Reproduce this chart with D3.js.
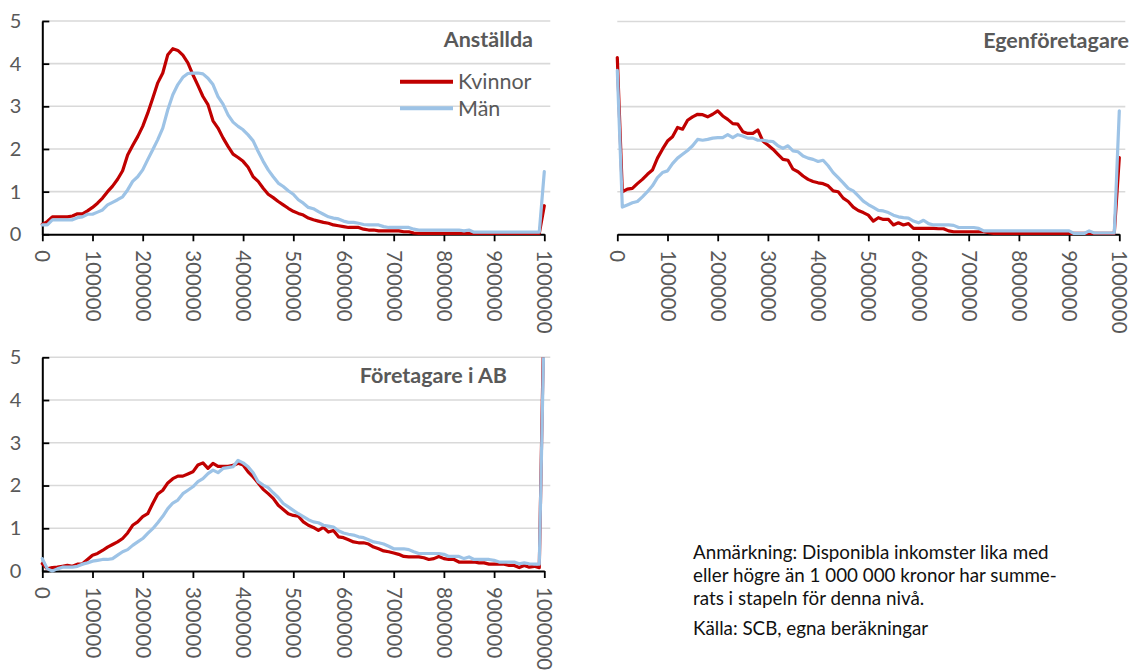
<!DOCTYPE html>
<html>
<head>
<meta charset="utf-8">
<script src="https://cdn.jsdelivr.net/npm/d3@7"></script>
<style>
  html, body { margin: 0; padding: 0; background: #ffffff; }
  svg { display: block; font-family: Lato, "Open Sans", sans-serif; }
</style>
</head>
<body>
<svg id="chart" width="1133" height="670"></svg>
<script>
// ---------- DATA ----------
// Disposable income categories (SEK), steps of 10 000
const incomes = d3.range(0, 1000001, 10000);
const xTickValues = [0, 100000, 200000, 300000, 400000, 500000, 600000, 700000, 800000, 900000, 1000000];
const xTickLabels = ["0", "100000", "200000", "300000", "400000", "500000", "600000", "700000", "800000", "900000", "1000000"];
const yTickValues = [0, 1, 2, 3, 4, 5];
const seriesNames = ["Kvinnor", "Män"];
const panelTitles = ["Anställda", "Egenföretagare", "Företagare i AB"];

// Anställda
const anstKvinnor = [0.23,0.30,0.41,0.41,0.41,0.41,0.43,0.48,0.48,0.55,0.63,0.73,0.85,1.00,1.13,1.29,1.49,1.86,2.08,2.29,
  2.53,2.84,3.19,3.55,3.78,4.21,4.35,4.31,4.20,4.02,3.74,3.49,3.23,3.04,2.66,2.49,2.26,2.06,1.88,1.80,
  1.71,1.57,1.35,1.24,1.08,0.94,0.86,0.77,0.69,0.61,0.54,
  0.49,0.45,0.38,0.34,0.31,0.28,0.26,0.22,0.20,0.18,0.16,0.16,0.16,0.12,0.10,0.10,0.08,0.08,0.08,0.08,
  0.08,0.06,0.06,0.03,0.02,0.02,0.02,0.02,0.02,0.02,0.02,0.02,0.02,0.02,0.02,0.02,0.02,0.02,0.02,0.02,
  0.02,0.02,0.02,0.02,0.02,0.02,0.02,0.02,0.02,0.67];
const anstMan = [0.22,0.22,0.34,0.34,0.34,0.34,0.34,0.39,0.41,0.47,0.47,0.52,0.57,0.69,0.75,0.81,0.88,1.04,1.24,1.35,
  1.51,1.75,1.98,2.22,2.49,2.92,3.27,3.51,3.68,3.77,3.78,3.78,3.76,3.66,3.51,3.23,3.05,2.80,2.63,2.53,
  2.45,2.33,2.19,1.94,1.71,1.51,1.35,1.20,1.12,1.02,0.94,
  0.81,0.73,0.63,0.60,0.53,0.47,0.41,0.38,0.36,0.31,0.28,0.28,0.26,0.23,0.22,0.22,0.22,0.18,0.16,0.16,
  0.16,0.16,0.16,0.12,0.10,0.10,0.10,0.10,0.10,0.10,0.10,0.10,0.10,0.08,0.10,0.05,0.05,0.05,0.05,0.05,
  0.05,0.05,0.05,0.05,0.05,0.05,0.05,0.05,0.05,1.47];

// Egenföretagare
const egenKvinnor = [4.15,1.00,1.06,1.08,1.19,1.29,1.41,1.51,1.79,2.00,2.19,2.29,2.51,2.47,2.68,2.76,2.82,2.81,2.76,2.82,
  2.90,2.78,2.70,2.60,2.59,2.41,2.37,2.37,2.45,2.19,2.10,2.00,1.88,1.76,1.74,1.53,1.47,1.37,1.29,1.24,
  1.21,1.19,1.14,1.02,1.00,0.85,0.77,0.64,0.56,0.51,0.45,
  0.31,0.39,0.35,0.35,0.22,0.27,0.22,0.25,0.14,0.14,0.14,0.14,0.14,0.13,0.13,0.08,0.06,0.06,0.06,0.06,
  0.06,0.06,0.06,0.04,0.02,0.02,0.02,0.02,0.02,0.02,0.02,0.02,0.02,0.02,0.02,0.02,0.02,0.02,0.02,0.02,
  0.02,0.02,0.02,0.02,0.02,0.02,0.02,0.02,0.02,1.80];
const egenMan = [3.85,0.64,0.69,0.74,0.77,0.88,1.00,1.14,1.33,1.45,1.49,1.66,1.79,1.88,1.97,2.08,2.23,2.21,2.23,2.26,
  2.27,2.27,2.34,2.27,2.34,2.31,2.26,2.26,2.21,2.21,2.19,2.18,2.08,2.02,2.08,1.96,1.94,1.84,1.79,1.76,
  1.71,1.74,1.61,1.45,1.33,1.21,1.08,1.02,0.90,0.78,0.70,
  0.63,0.56,0.55,0.51,0.45,0.41,0.39,0.38,0.31,0.27,0.33,0.25,0.22,0.22,0.22,0.22,0.21,0.16,0.16,0.16,
  0.16,0.14,0.08,0.08,0.08,0.08,0.08,0.08,0.08,0.08,0.08,0.08,0.08,0.08,0.08,0.08,0.08,0.08,0.08,0.08,
  0.02,0.02,0.02,0.08,0.03,0.03,0.03,0.03,0.03,2.90];

// Företagare i AB
const abKvinnor = [0.17,0.05,0.08,0.09,0.11,0.13,0.11,0.16,0.17,0.27,0.37,0.41,0.48,0.56,0.62,0.68,0.76,0.89,1.07,1.15,
  1.27,1.34,1.58,1.80,1.89,2.06,2.16,2.22,2.22,2.27,2.32,2.48,2.53,2.40,2.52,2.45,2.45,2.45,2.47,2.52,
  2.48,2.32,2.20,2.06,1.91,1.81,1.70,1.54,1.44,1.34,1.30,
  1.28,1.15,1.07,1.02,0.95,1.02,0.91,0.95,0.80,0.78,0.73,0.68,0.66,0.66,0.63,0.56,0.52,0.47,0.45,0.42,
  0.39,0.34,0.33,0.33,0.33,0.31,0.27,0.29,0.34,0.29,0.27,0.27,0.21,0.21,0.21,0.21,0.19,0.19,0.16,0.16,
  0.16,0.16,0.13,0.13,0.08,0.13,0.09,0.11,0.08,6.50];
const abMan = [0.29,0.05,0.00,0.05,0.09,0.09,0.09,0.11,0.16,0.19,0.23,0.25,0.27,0.27,0.29,0.37,0.45,0.50,0.60,0.68,
  0.76,0.88,0.99,1.13,1.28,1.46,1.59,1.66,1.81,1.89,1.97,2.09,2.16,2.28,2.36,2.30,2.40,2.42,2.44,2.59,
  2.53,2.44,2.30,2.09,2.01,1.95,1.83,1.72,1.58,1.50,1.42,
  1.34,1.27,1.20,1.15,1.13,1.07,1.05,1.03,0.94,0.89,0.86,0.84,0.80,0.78,0.73,0.68,0.66,0.63,0.58,0.52,
  0.52,0.52,0.50,0.45,0.41,0.41,0.41,0.41,0.41,0.39,0.34,0.34,0.34,0.29,0.33,0.27,0.27,0.27,0.27,0.25,
  0.21,0.21,0.21,0.21,0.17,0.19,0.17,0.16,0.16,6.00];

const noteLines = [
  "Anmärkning: Disponibla inkomster lika med",
  "eller högre än 1 000 000 kronor har summe-",
  "rats i stapeln för denna nivå."
];
const sourceLine = "Källa: SCB, egna beräkningar";

// ---------- STYLE / LAYOUT ----------
const colors = { "Kvinnor": "#c00000", "Män": "#9dc3e6" };
const textGray = "#595959";
const gridColor = "#d9d9d9";

const panels = [
  { title: panelTitles[0], series: [anstKvinnor, anstMan], x0: 42.3, x1: 544.3, y0: 234.3, y5: 21.0, yAxis: true,
    titleX: 533, titleY: 47, legend: true },
  { title: panelTitles[1], series: [egenKvinnor, egenMan], x0: 617.3, x1: 1119.3, y0: 234.3, y5: 21.5, yAxis: false,
    titleX: 1129, titleY: 47.5, legend: false },
  { title: panelTitles[2], series: [abKvinnor, abMan], x0: 42.3, x1: 544.3, y0: 571.0, y5: 357.3, yAxis: true,
    titleX: 507, titleY: 383, legend: false }
];

const svg = d3.select("#chart");

panels.forEach((p, pi) => {
  const x = d3.scaleLinear().domain([0, 1000000]).range([p.x0, p.x1]);
  const y = d3.scaleLinear().domain([0, 5]).range([p.y0, p.y5]);
  const g = svg.append("g");

  // gridlines
  g.append("g").selectAll("line")
    .data(yTickValues.filter(v => v > 0))
    .join("line")
    .attr("x1", p.x0).attr("x2", p.x1 + 6)
    .attr("y1", d => y(d)).attr("y2", d => y(d))
    .attr("stroke", gridColor).attr("stroke-width", 1.6);

  // clip
  const clipId = "clip" + pi;
  svg.append("clipPath").attr("id", clipId)
    .append("rect")
    .attr("x", p.x0 - 4).attr("y", p.y5)
    .attr("width", p.x1 - p.x0 + 12).attr("height", p.y0 - p.y5 + 4);

  // x axis
  const xAxis = d3.axisBottom(x)
    .tickValues(xTickValues)
    .tickFormat((d, i) => xTickLabels[i])
    .tickSizeInner(7).tickSizeOuter(0);
  const gx = g.append("g").attr("transform", `translate(0,${p.y0})`).call(xAxis);
  gx.select(".domain").attr("stroke", "#000").attr("stroke-width", 2);
  gx.selectAll(".tick line").attr("stroke", "#000").attr("stroke-width", 1.8);
  gx.selectAll(".tick text")
    .attr("transform", "rotate(90)")
    .attr("x", 16).attr("y", 0).attr("dy", "0.36em")
    .attr("text-anchor", "start")
    .attr("fill", textGray)
    .style("font-size", "20.5px")
    .style("font-family", "Lato");

  // y axis
  if (p.yAxis) {
    const yAxis = d3.axisLeft(y)
      .tickValues(yTickValues)
      .tickFormat(d3.format("d"))
      .tickSizeInner(-7).tickSizeOuter(0).tickPadding(21);
    const gy = g.append("g").attr("transform", `translate(${p.x0},0)`).call(yAxis);
    gy.select(".domain").attr("stroke", "#000").attr("stroke-width", 2);
    gy.selectAll(".tick line").attr("stroke", "#000").attr("stroke-width", 1.8);
    gy.selectAll(".tick text")
      .attr("fill", textGray)
      .style("font-size", "20px")
      .style("font-family", "Lato");
  }

  // lines
  const line = d3.line()
    .x((d, i) => x(incomes[i]))
    .y(d => y(d));
  const lg = g.append("g").attr("clip-path", `url(#${clipId})`);
  p.series.forEach((s, si) => {
    lg.append("path")
      .datum(s)
      .attr("d", line)
      .attr("fill", "none")
      .attr("stroke", colors[seriesNames[si]])
      .attr("stroke-width", 3.2)
      .attr("stroke-linejoin", "round")
      .attr("stroke-linecap", "round");
  });

  // title
  g.append("text")
    .attr("x", p.titleX).attr("y", p.titleY)
    .attr("text-anchor", "end")
    .attr("fill", textGray)
    .style("font-weight", "bold")
    .style("font-size", "21.5px")
    .text(p.title);

  // legend
  if (p.legend) {
    const lx0 = 400, lx1 = 453;
    const ly = [81.7, 108.3];
    seriesNames.forEach((name, i) => {
      g.append("line")
        .attr("x1", lx0).attr("x2", lx1)
        .attr("y1", ly[i]).attr("y2", ly[i])
        .attr("stroke", colors[name]).attr("stroke-width", 4);
      g.append("text")
        .attr("x", lx1 + 5).attr("y", ly[i])
        .attr("dy", "0.36em")
        .attr("fill", textGray)
        .style("font-size", "21.5px")
        .text(name);
    });
  }
});

// note
const note = svg.append("g").style("font-size", "18.8px").attr("fill", "#111");
noteLines.forEach((t, i) => {
  note.append("text").attr("x", 693).attr("y", 559 + i * 23).text(t);
});
note.append("text").attr("x", 693).attr("y", 635).text(sourceLine);
</script>
</body>
</html>
